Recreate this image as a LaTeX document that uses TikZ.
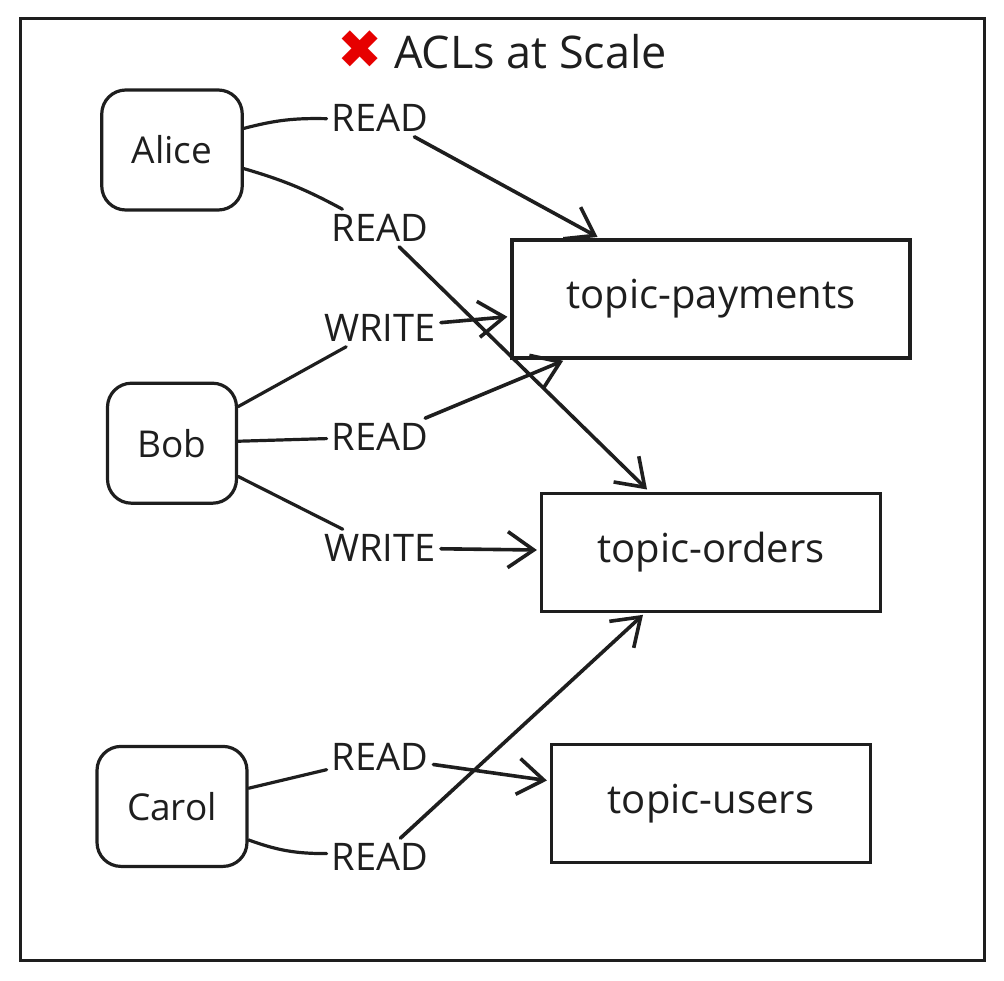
\documentclass[tikz,border=0pt]{standalone}
\usepackage{fontspec}
\setmainfont{Open Sans}
\newfontfamily\symfont{DejaVu Sans}
\usepackage{xcolor}
\usetikzlibrary{arrows.meta, positioning}

\definecolor{ink}{HTML}{1E1E1E}
\definecolor{crossred}{HTML}{E60000}

\begin{document}
\begin{tikzpicture}[
  x=1pt, y=-1pt,
  user/.style={rectangle, rounded corners=24pt, draw=ink, line width=3.2pt, minimum height=120pt, inner xsep=30pt, text=ink, font=\fontsize{37}{40}\selectfont},
  topic/.style={rectangle, draw=ink, line width=3.2pt, minimum height=118pt, text=ink, font=\fontsize{40}{44}\selectfont},
  perm/.style={inner sep=5pt, text=ink, font=\fontsize{38}{40}\selectfont},
  link/.style={draw=ink, line width=3.2pt, line cap=round},
  grant/.style={link, line width=3.6pt, -{Straight Barb[length=26pt, width=36pt]}, shorten >=3pt}
]
  \useasboundingbox (0,0) rectangle (1004,980);
  \draw[draw=ink, line width=3pt] (20,18) rectangle (984,960);

  \node[text=ink, font=\fontsize{45}{48}\selectfont] (title) at (502,50) {{\symfont\fontsize{54}{56}\selectfont\color{crossred}✖}\ ACLs at Scale};

  % users
  \node[user] (alice) at (172,150) {Alice};
  \node[user, below=170pt of alice] (bob) {Bob};
  \node[user, below=240pt of bob] (carol) {Carol};

  % topics
  \node[topic, minimum width=398pt] (pay) at (711,299) {topic-payments};
  \node[topic, minimum width=339pt, below=132pt of pay] (orders) {topic-orders};
  \node[topic, minimum width=319pt, below=130pt of orders] (users) {topic-users};

  % permissions
  \node[perm] (aread1) at (380,118) {READ};
  \node[perm] (aread2) at (380,228) {READ};
  \node[perm] (bwrite1) at (380,328) {WRITE};
  \node[perm] (bread) at (380,437) {READ};
  \node[perm] (bwrite2) at (380,548) {WRITE};
  \node[perm] (cread1) at (380,757) {READ};
  \node[perm] (cread2) at (380,857) {READ};

  \draw[link] (alice) to[bend left=8] (aread1);
  \draw[grant] (aread1) -- (pay);
  \draw[link] (alice) to[bend left=6] (aread2);
  \draw[grant] (aread2) -- (orders);

  \draw[link] (bob) -- (bwrite1);
  \draw[grant] (bwrite1) -- (pay);
  \draw[link] (bob) -- (bread);
  \draw[grant] (bread) -- (pay);
  \draw[link] (bob) -- (bwrite2);
  \draw[grant] (bwrite2) -- (orders);

  \draw[link] (carol) -- (cread1);
  \draw[grant] (cread1) -- (users);
  \draw[link] (carol) to[bend right=10] (cread2);
  \draw[grant] (cread2) -- (orders);
\end{tikzpicture}
\end{document}
